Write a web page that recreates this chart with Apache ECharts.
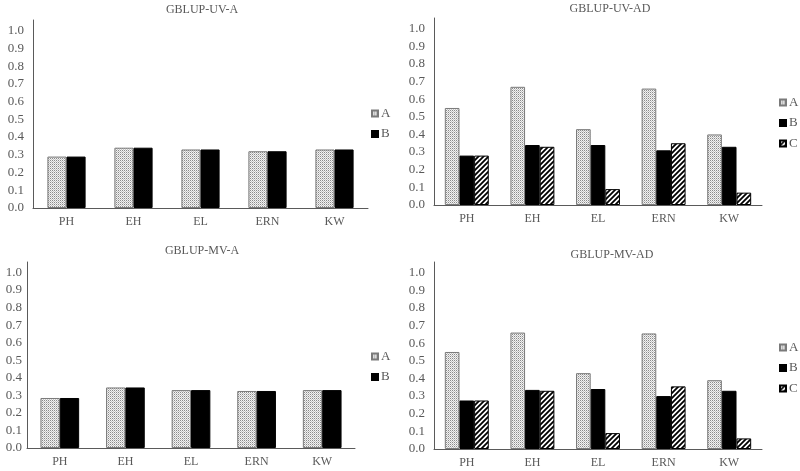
<!DOCTYPE html>
<html>
<head>
<meta charset="utf-8">
<script src="https://cdn.jsdelivr.net/npm/echarts@6/dist/echarts.min.js"></script>
<style>
html,body{margin:0;padding:0;background:#fff;}
#chart{width:800px;height:471px;}
</style>
</head>
<body>
<div id="chart"></div>
<script>
// ---- data ----
const categories = ['PH', 'EH', 'EL', 'ERN', 'KW'];
const yTickLabels = ['0.0','0.1','0.2','0.3','0.4','0.5','0.6','0.7','0.8','0.9','1.0'];

const titles = ['GBLUP-UV-A', 'GBLUP-UV-AD', 'GBLUP-MV-A', 'GBLUP-MV-AD'];

const uvA_A = [0.29, 0.34, 0.33, 0.32, 0.33];
const uvA_B = [0.29, 0.34, 0.33, 0.32, 0.33];

const uvAD_A = [0.55, 0.67, 0.43, 0.66, 0.40];
const uvAD_B = [0.28, 0.34, 0.34, 0.31, 0.33];
const uvAD_C = [0.28, 0.33, 0.09, 0.35, 0.07];

const mvA_A = [0.285, 0.345, 0.33, 0.325, 0.33];
const mvA_B = [0.285, 0.345, 0.33, 0.325, 0.33];

const mvAD_A = [0.55, 0.66, 0.43, 0.655, 0.39];
const mvAD_B = [0.275, 0.335, 0.34, 0.30, 0.33];
const mvAD_C = [0.275, 0.33, 0.09, 0.355, 0.06];

// ---- patterns ----
function dotPattern() {
  const c = document.createElement('canvas');
  c.width = 2; c.height = 2;
  const g = c.getContext('2d');
  g.fillStyle = '#f2f2f2'; g.fillRect(0, 0, 2, 2);
  g.fillStyle = '#8a8a8a';
  g.fillRect(0, 0, 1, 1);
  g.fillStyle = '#c4c4c4';
  g.fillRect(1, 1, 1, 1);
  return c;
}
function stripePattern() {
  const s = 5;
  const c = document.createElement('canvas');
  c.width = s; c.height = s;
  const g = c.getContext('2d');
  g.fillStyle = '#ffffff'; g.fillRect(0, 0, s, s);
  g.strokeStyle = '#000000'; g.lineWidth = 1.8;
  g.beginPath();
  g.moveTo(-1, s + 1); g.lineTo(s + 1, -1);
  g.moveTo(-s / 2 - 1, s / 2 + 1); g.lineTo(s / 2 + 1, -s / 2 - 1);
  g.moveTo(s / 2 - 1, s * 1.5 + 1); g.lineTo(s * 1.5 + 1, s / 2 - 1);
  g.stroke();
  return c;
}
const patA = { image: dotPattern(), repeat: 'repeat' };
const patC = { image: stripePattern(), repeat: 'repeat' };

const styleA = { color: patA, borderColor: '#7a7a7a', borderWidth: 1 };
const styleB = { color: '#000000', borderColor: '#000000', borderWidth: 1 };
const styleC = { color: patC, borderColor: '#000000', borderWidth: 1 };

const FONT = '"Liberation Serif", "Times New Roman", serif';
const GRAY = '#595959';

const grids = [
  { left: 33, top: 20, width: 335, height: 188 },
  { left: 434, top: 18, width: 328, height: 187 },
  { left: 27, top: 262, width: 328, height: 186 },
  { left: 434, top: 262, width: 328, height: 187 }
];
const titlePos = [
  { left: 197, top: -1 },
  { left: 605, top: -2 },
  { left: 197, top: 240 },
  { left: 607, top: 244 }
];
const legendPos = [
  { left: 371, top: 107, data: ['A', 'B'] },
  { left: 779, top: 96, data: ['A', 'B', 'C'] },
  { left: 371, top: 350, data: ['A', 'B'] },
  { left: 779, top: 341, data: ['A', 'B', 'C'] }
];
const gapPct = ['43%', '33%', '41%', '33%'];

const seriesSets = [
  [['A', uvA_A, styleA], ['B', uvA_B, styleB]],
  [['A', uvAD_A, styleA], ['B', uvAD_B, styleB], ['C', uvAD_C, styleC]],
  [['A', mvA_A, styleA], ['B', mvA_B, styleB]],
  [['A', mvAD_A, styleA], ['B', mvAD_B, styleB], ['C', mvAD_C, styleC]]
];

const option = {
  animation: false,
  backgroundColor: '#ffffff',
  title: titles.map((t, i) => ({
    text: t,
    left: titlePos[i].left,
    top: titlePos[i].top,
    textAlign: 'center',
    textStyle: { fontFamily: FONT, fontSize: 12, fontWeight: 'normal', color: GRAY }
  })),
  legend: legendPos.map(p => ({
    left: p.left, top: p.top, orient: 'vertical',
    data: p.data,
    icon: 'rect',
    itemWidth: 6, itemHeight: 6, itemGap: 7.5,
    padding: 0,
    selectedMode: false,
    textStyle: { fontFamily: FONT, fontSize: 13, color: GRAY, padding: [0, 0, 0, -2] }
  })),
  grid: grids.map(g => Object.assign({ containLabel: false }, g)),
  xAxis: grids.map((g, i) => ({
    type: 'category',
    gridIndex: i,
    data: categories,
    axisTick: { show: false },
    axisLine: { lineStyle: { color: '#5a5a5a', width: 1 } },
    axisLabel: { fontFamily: FONT, fontSize: 12, color: GRAY, margin: 8 },
    splitLine: { show: false }
  })),
  yAxis: grids.map((g, i) => ({
    type: 'value',
    gridIndex: i,
    min: 0, max: 1.06, interval: 0.1,
    axisLine: { show: true, lineStyle: { color: '#5a5a5a', width: 1 } },
    axisTick: { show: false },
    splitLine: { show: false },
    axisLabel: {
      fontFamily: FONT, fontSize: 13, color: GRAY,
      margin: i === 2 ? 5 : 9,
      showMaxLabel: false,
      formatter: v => {
        const k = Math.round(v * 10);
        return (Math.abs(v * 10 - k) < 1e-6 && k >= 0 && k < yTickLabels.length) ? yTickLabels[k] : '';
      }
    }
  })),
  series: []
};

seriesSets.forEach((set, gi) => {
  set.forEach(([name, data, style]) => {
    option.series.push({
      type: 'bar',
      name: name,
      xAxisIndex: gi,
      yAxisIndex: gi,
      data: data,
      barGap: '0%',
      barCategoryGap: gapPct[gi],
      itemStyle: style,
      emphasis: { disabled: true }
    });
  });
});

const chart = echarts.init(document.getElementById('chart'), null, { renderer: 'canvas' });
chart.setOption(option);
</script>
</body>
</html>
